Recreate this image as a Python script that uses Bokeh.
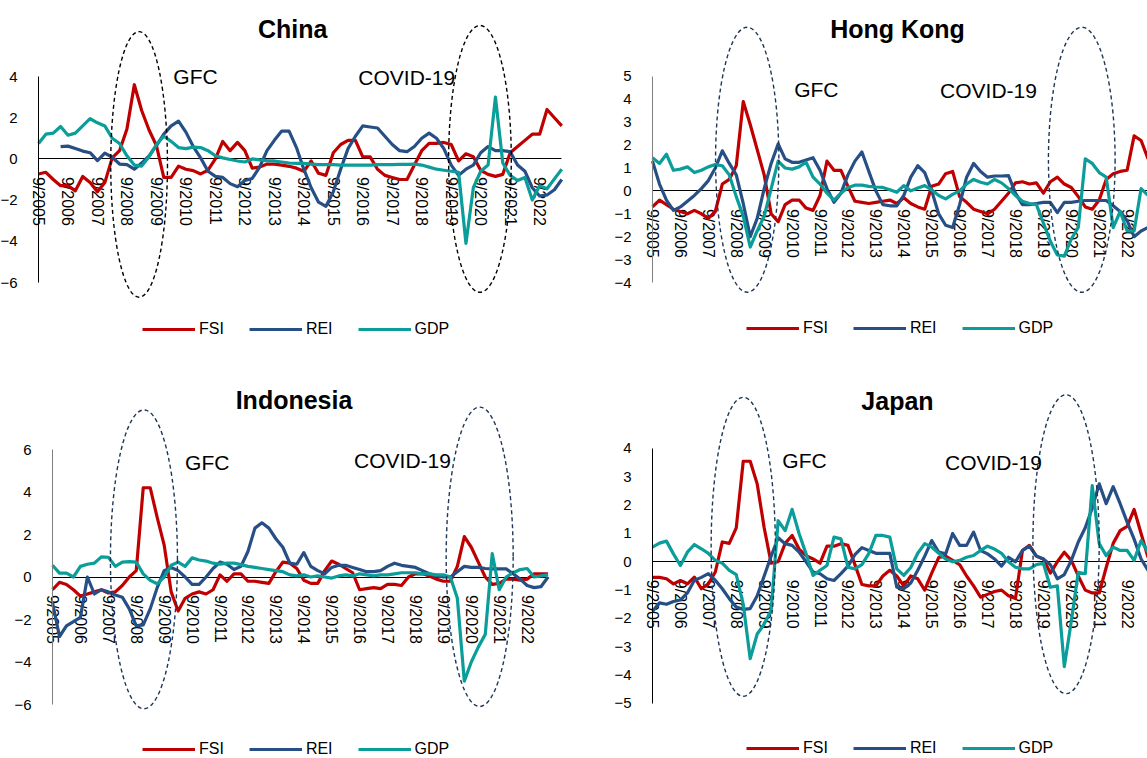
import math
from bokeh.plotting import figure
from bokeh.models import Range1d, LinearAxis, FixedTicker, Legend, LegendItem, Label
from bokeh.layouts import column, row
from bokeh.embed import file_html
from bokeh.resources import INLINE

NAN = float("nan")
FONT = "Liberation Sans"

# ---------------- categories (quarters 9/2005 ... 6/2023) ----------------
months = [9, 12, 3, 6]
quarters = [f"{months[i % 4]}/{2005 + (i + 2) // 4}" for i in range(72)]
xs = list(range(len(quarters)))
tick_idx = [i for i in xs if i % 4 == 0]
tick_labels = {i: quarters[i] for i in tick_idx}

# ---------------- data ----------------
china_fsi = [-0.73, -0.65, -1.0, -1.3, -1.3, -1.55, -0.85, -1.15, -1.6, -1.15,
             0.05, 0.4, 1.45, 3.6, 2.35, 1.4, 0.65, -0.9, -0.9, -0.35,
             -0.5, -0.57, -0.73, -0.55, 0.0, 0.85, 0.4, 0.8, 0.4, -0.45,
             -0.4, -0.25, -0.25, -0.3, -0.36, -0.45, -0.6, -0.1, -0.7, -0.8,
             0.3, 0.7, 0.9, 0.9, 0.1, 0.1, -0.5, -0.8, -0.9, -1.0,
             -1.0, -0.3, 0.4, 0.75, 0.75, 0.8, 0.7, -0.1, 0.25, 0.1,
             -0.55, -0.75, -0.85, -0.75, 0.3, 0.6, 0.9, 1.2, 1.2, 2.4,
             2.0, 1.6]
china_rei = [NAN, NAN, NAN, 0.6, 0.62, 0.5, 0.38, 0.3, -0.08, 0.28,
             0.08, -0.25, -0.28, -0.5, -0.2, 0.15, 0.65, 1.2, 1.6, 1.83,
             1.3, 0.6, 0.05, -0.6, -0.85, -0.9, -1.2, -1.35, -1.05, -0.95,
             -0.4, 0.4, 0.9, 1.35, 1.35, 0.55, -0.5, -1.4, -2.1, -2.3,
             -1.6, -0.5, 0.5, 1.1, 1.6, 1.55, 1.5, 1.1, 0.7, 0.4,
             0.35, 0.6, 1.0, 1.25, 1.0, 0.5, -0.3, -0.8, -0.5, -0.3,
             0.3, 0.6, 0.4, 0.4, 0.35, -0.3, -0.6, -1.4, -1.8, -1.75,
             -1.5, -1.0]
china_gdp = [0.75, 1.2, 1.25, 1.57, 1.15, 1.25, 1.6, 1.95, 1.75, 1.6,
             1.0, 0.75, 0.15, -0.3, -0.35, 0.1, 0.7, 1.1, 0.85, 0.55,
             0.5, 0.57, 0.55, 0.4, 0.15, 0.05, -0.03, -0.1, -0.15, 0.0,
             -0.05, -0.08, -0.1, -0.15, -0.2, -0.22, -0.22, -0.25, -0.28, -0.28,
             -0.28, -0.3, -0.3, -0.3, -0.3, -0.3, -0.28, -0.28, -0.28, -0.27,
             -0.27, -0.25, -0.3, -0.4, -0.5, -0.55, -0.6, -0.65, -4.1, -1.4,
             -0.6, -0.3, 3.0, -0.2, -0.8, -1.05, -0.9, -2.0, -1.3, -1.45,
             -0.97, -0.5]

hk_fsi = [-0.7, -0.4, -0.6, -0.8, -0.9, -1.0, -0.85, -1.0, -1.2, -0.9,
          0.3, 0.5, 1.1, 3.9, 2.9, 1.8, 0.7, -1.0, -1.35, -0.6,
          -0.4, -0.4, -0.75, -0.85, -0.2, 1.3, 0.9, 0.9, 0.2, -0.45,
          -0.5, -0.55, -0.5, -0.45, -0.4, -0.55, -0.3, -0.55, -0.7, -0.8,
          0.2, 0.3, 0.75, 0.85, -0.25, -0.5, -0.8, -0.9, -1.0, -0.8,
          -0.45, -0.1, 0.35, 0.4, 0.3, 0.35, -0.1, 0.4, 0.6, 0.3,
          0.15, -0.25, -0.7, -0.8, -0.4, 0.5, 0.75, 0.85, 0.9, 2.4,
          2.2, 1.4]
hk_rei = [1.3, 0.3, -0.4, -0.85, -0.7, -0.45, -0.2, 0.1, 0.45, 1.0,
          1.75, 1.2, 0.7, -0.55, -2.0, -1.2, 0.1, 1.2, 2.05, 1.4,
          1.25, 1.25, 1.35, 1.45, 0.9, 0.1, -0.5, -0.1, 0.7, 1.3,
          1.7, 0.85, 0.0, -0.6, -0.65, -0.65, -0.2, 0.6, 1.1, 0.8,
          0.0, -1.0, -1.5, -1.6, -0.6, 0.6, 1.2, 0.85, 0.6, 0.65,
          0.65, 0.67, -0.1, -0.6, -0.6, -0.55, -0.5, -0.5, -0.95, -0.5,
          -0.5, -0.45, -0.42, -0.42, -0.42, -0.42, -0.65, -0.9, -1.3, -2.0,
          -1.75, -1.6]
hk_gdp = [1.45, 1.2, 1.6, 0.9, 0.95, 1.05, 0.8, 0.9, 1.05, 1.15,
          1.1, 0.7, -0.25, -1.1, -2.45, -1.75, -1.1, 0.1, 1.3, 1.0,
          0.95, 1.05, 1.25, 0.6, 0.3, -0.1, -0.4, -0.1, 0.15, 0.25,
          0.25, 0.2, 0.17, 0.15, 0.05, -0.06, 0.23, 0.0, 0.13, 0.23,
          0.05, -0.2, -0.35, -0.15, 0.0, 0.3, 0.5, 0.38, 0.3, 0.5,
          0.35, 0.1, -0.2, -0.45, -0.55, -0.6, -1.4, -2.2, -2.8, -2.85,
          -2.1, -1.6, 1.4, 1.2, 0.8, 0.6, -1.6, -0.9, -1.75, -1.75,
          0.1, -0.2]

indo_fsi = [-0.6, -0.25, -0.35, -0.6, -0.9, -0.8, -0.7, -0.6, -0.75, -0.7,
            -0.4, 0.0, 0.3, 4.2, 4.2, 2.8, 1.5, -0.7, -1.6, -1.0,
            -0.8, -0.7, -0.8, -0.6, 0.1, -0.2, 0.15, 0.15, -0.2, -0.2,
            -0.25, -0.3, 0.25, 0.7, 0.65, 0.4, -0.15, -0.3, -0.3, 0.3,
            0.75, 0.6, 0.4, 0.2, -0.6, -0.55, -0.5, -0.55, -0.35, -0.35,
            -0.4, 0.0, 0.15, 0.15, 0.05, -0.1, -0.2, -0.2, 0.5, 1.9,
            1.4, 0.7, 0.0, -0.35, -0.3, -0.1, -0.1, -0.15, -0.1, 0.15,
            0.15, 0.15]
indo_rei = [-1.2, -2.8, -2.3, -2.1, -1.9, 0.0, -0.8, -0.6, -0.7, -0.85,
            -0.95, -1.5, -2.3, -2.25, -1.5, -0.5, 0.3, 0.45, 0.3, 0.0,
            -0.35, -0.35, 0.0, 0.4, 0.7, 0.6, 0.35, 0.5, 1.2, 2.3,
            2.55, 2.3, 1.8, 1.4, 0.65, 0.6, 1.15, 0.5, 0.3, 0.15,
            0.45, 0.55, 0.55, 0.45, 0.35, 0.25, 0.25, 0.3, 0.5, 0.65,
            0.55, 0.5, 0.45, 0.3, 0.15, 0.05, 0.0, 0.0, 0.25, 0.5,
            0.45, 0.45, 0.4, 0.38, 0.38, 0.38, 0.15, -0.1, -0.4, -0.5,
            -0.45, 0.0]
indo_gdp = [0.55, 0.18, 0.18, 0.0, 0.5, 0.6, 0.65, 0.95, 0.93, 0.5,
            0.7, 0.72, 0.7, 0.15, -0.16, -0.32, 0.0, 0.55, 0.7, 0.5,
            0.9, 0.8, 0.75, 0.65, 0.6, 0.65, 0.65, 0.58, 0.5, 0.45,
            0.4, 0.35, 0.3, 0.25, 0.1, 0.05, 0.1, 0.0, 0.05, 0.0,
            -0.05, 0.05, 0.1, 0.05, 0.15, 0.1, 0.05, 0.1, 0.1, 0.15,
            0.2, 0.2, 0.2, 0.15, 0.15, 0.1, 0.1, 0.0, -1.0, -4.9,
            -4.0, -3.3, -2.7, 1.1, -0.6, 0.0, 0.2, 0.35, 0.4, 0.0,
            0.05, 0.1]

jp_fsi = [-0.55, -0.55, -0.6, -0.78, -0.66, -0.78, -0.54, -0.95, -0.78, -0.36,
          0.7, 0.65, 1.2, 3.55, 3.55, 2.75, 1.2, -0.05, 0.0, 0.65,
          0.93, 0.45, 0.22, 0.1, -0.05, 0.55, 0.55, 0.64, 0.58, -0.1,
          -0.8, -0.85, -0.85, -0.5, -0.3, -0.5, -0.85, -0.5, -0.6, -1.0,
          -0.4, 0.15, 0.2, 0.05, -0.1, -0.5, -0.85, -1.25, -1.15, -1.05,
          -1.0, -1.2, -1.3, 0.4, 0.58, 0.2, 0.1, -0.4, 0.0, 0.34,
          0.05, -0.5, -1.0, -1.1, -1.1, -0.2, 0.65, 1.1, 1.25, 1.85,
          1.0, 0.15]
jp_rei = [-1.75, -1.45, -1.5, -1.4, -1.35, -1.1, -0.65, -0.55, -0.42, -0.65,
          -0.95, -1.3, -1.6, -1.68, -1.65, -1.2, -0.5, 0.2, 0.85, 0.64,
          0.58, 0.34, 0.0, -0.36, -0.42, -0.6, -0.66, -0.42, -0.15, 0.25,
          0.5, 0.4, 0.3, 0.3, 0.3, -0.9, -0.95, -0.75, -0.3, 0.2,
          0.75, 0.34, 0.28, 1.0, 0.58, 0.58, 1.05, 0.4, 0.28, 0.1,
          -0.15, 0.16, 0.0, 0.4, 0.55, 0.2, 0.1, -0.1, -0.6, -0.45,
          0.05, 0.7, 1.2, 1.9, 2.75, 2.05, 2.65, 2.05, 1.4, 0.8,
          0.1, -0.3]
jp_gdp = [0.52, 0.66, 0.73, 0.28, -0.13, 0.34, 0.61, 0.46, 0.3, 0.05,
          -0.05, -0.3, -0.45, -1.5, -3.42, -2.55, -2.2, -1.7, 1.45, 1.1,
          1.85, 1.0, 0.28, -0.48, -0.3, -0.13, 0.87, 0.81, -0.19, -0.25,
          -0.1, 0.3, 0.93, 0.93, 0.87, -0.25, -0.48, -0.2, 0.3, 0.64,
          0.52, 0.3, 0.1, 0.0, 0.05, 0.16, 0.22, 0.4, 0.55, 0.45,
          0.3, 0.0, -0.19, -0.25, -0.25, -0.1, -0.05, -0.9, -0.85, -3.7,
          -2.1, -0.37, -0.42, 2.69, 0.64, 0.22, 0.52, 0.4, 0.4, 0.05,
          0.75, 0.34]

series_names = ["FSI", "REI", "GDP"]
series_colors = ["#C00000", "#264F86", "#0A9D99"]

# ---------------- panel builder ----------------
def make_panel(title, data, *, width, height, page_left, page_top, axis_px,
               px_per_q, zero_px, px_per_unit, yticks, axis_color,
               ellipses, ell_color, notes, title_xy, legend_left_px, legend_center_px):
    # frame covers the whole figure; both axes sit at fixed data locations
    x_start = -(axis_px - page_left) / px_per_q
    x_end = (page_left + width - axis_px) / px_per_q
    y_top = (zero_px - page_top) / px_per_unit
    y_bot = (zero_px - (page_top + height)) / px_per_unit

    p = figure(width=width, height=height, output_backend="svg", toolbar_location=None,
               x_range=Range1d(x_start, x_end), y_range=Range1d(y_bot, y_top),
               x_axis_location=None, y_axis_location=None,
               min_border_left=0, min_border_right=0,
               min_border_top=0, min_border_bottom=0)
    p.outline_line_color = None
    p.grid.visible = False
    p.background_fill_color = "white"
    p.border_fill_color = "white"

    ya = LinearAxis(fixed_location=0, ticker=FixedTicker(ticks=yticks),
                    bounds=(min(yticks), max(yticks)))
    ya.axis_line_color = axis_color
    ya.axis_line_width = 1
    ya.major_tick_line_color = None
    ya.minor_tick_line_color = None
    ya.major_label_text_font = FONT
    ya.major_label_text_font_size = "15px"
    ya.major_label_text_color = "#000000"
    ya.major_label_standoff = 15
    p.add_layout(ya, "left")

    xa = LinearAxis(fixed_location=0, ticker=FixedTicker(ticks=tick_idx),
                    major_label_overrides=tick_labels, major_label_orientation="vertical",
                    bounds=(0, len(xs) - 1), level="underlay")
    xa.axis_line_color = "#000000"
    xa.axis_line_width = 1
    xa.major_tick_line_color = None
    xa.minor_tick_line_color = None
    xa.major_label_text_font = FONT
    xa.major_label_text_font_size = "16px"
    xa.major_label_text_color = "#000000"
    xa.major_label_standoff = 12
    p.add_layout(xa, "below")

    renderers = []
    for vals, col in zip(data, series_colors):
        r = p.line(xs, vals, line_color=col, line_width=3.2, line_join="round")
        renderers.append(r)

    for (cx, cy, w, h) in ellipses:
        p.ellipse(x=[cx], y=[cy], width=[w], height=[h], fill_color=None,
                  line_color=ell_color, line_width=1.4, line_dash="4 3")

    for (tx, ty, txt) in notes:
        p.add_layout(Label(x=tx, y=ty, text=txt, text_font=FONT, text_font_size="21px",
                           text_color="#000000", text_align="left", text_baseline="middle"))

    p.add_layout(Label(x=title_xy[0], y=title_xy[1], text=title, text_font=FONT,
                       text_font_size="25px", text_font_style="bold", text_color="#000000",
                       text_align="center", text_baseline="middle"))

    leg_h = 20
    vx = legend_left_px - page_left
    vy = (page_top + height) - (legend_center_px + leg_h / 2)
    legend = Legend(items=[LegendItem(label=n, renderers=[r]) for n, r in zip(series_names, renderers)],
                    orientation="horizontal", location=(vx, vy),
                    glyph_width=53, glyph_height=leg_h, label_height=leg_h, label_standoff=4,
                    spacing=25, padding=0, margin=0,
                    border_line_alpha=0, background_fill_alpha=0,
                    label_text_font=FONT, label_text_font_size="16px", label_text_color="#000000")
    p.add_layout(legend, "center")
    return p


china = make_panel("China", [china_fsi, china_rei, china_gdp],
                   width=580, height=378, page_left=0, page_top=0, axis_px=38,
                   px_per_q=7.37, zero_px=158.4, px_per_unit=20.6,
                   yticks=[-6, -4, -2, 0, 2, 4], axis_color="#000000",
                   ellipses=[(13.65, -0.27, 7.7, 12.9), (59.9, 0.0, 8.5, 12.95)],
                   ell_color="#000000",
                   notes=[(18.3, 4.0, "GFC"), (43.4, 3.95, "COVID-19")],
                   title_xy=(34.5, 6.33), legend_left_px=142, legend_center_px=329)

hk = make_panel("Hong Kong", [hk_fsi, hk_rei, hk_gdp],
                width=567, height=378, page_left=580, page_top=0, axis_px=652,
                px_per_q=6.98, zero_px=190.4, px_per_unit=22.9,
                yticks=[-4, -3, -2, -1, 0, 1, 2, 3, 4, 5], axis_color="#808080",
                ellipses=[(13.57, 1.36, 9.07, 11.57), (61.5, 1.36, 9.55, 11.57)],
                ell_color="#1F3655",
                notes=[(20.3, 4.41, "GFC"), (41.2, 4.38, "COVID-19")],
                title_xy=(35.1, 7.09), legend_left_px=746, legend_center_px=328)

indo = make_panel("Indonesia", [indo_fsi, indo_rei, indo_gdp],
                  width=580, height=380, page_left=0, page_top=378, axis_px=52,
                  px_per_q=6.98, zero_px=576.5, px_per_unit=21.25,
                  yticks=[-6, -4, -2, 0, 2, 4, 6], axis_color="#808080",
                  ellipses=[(13.1, 0.83, 9.6, 14.07), (61.2, 0.95, 9.6, 14.1)],
                  ell_color="#1F3655",
                  notes=[(19.0, 5.4, "GFC"), (43.2, 5.48, "COVID-19")],
                  title_xy=(34.6, 8.31), legend_left_px=142, legend_center_px=749)

japan = make_panel("Japan", [jp_fsi, jp_rei, jp_gdp],
                   width=567, height=380, page_left=580, page_top=378, axis_px=652,
                   px_per_q=6.98, zero_px=561.3, px_per_unit=28.33,
                   yticks=[-5, -4, -3, -2, -1, 0, 1, 2, 3, 4], axis_color="#000000",
                   ellipses=[(13.0, 0.53, 9.2, 10.56), (59.25, 0.62, 9.5, 10.56)],
                   ell_color="#1F3655",
                   notes=[(18.6, 3.58, "GFC"), (41.9, 3.52, "COVID-19")],
                   title_xy=(35.1, 5.69), legend_left_px=746, legend_center_px=748)

layout = column(row(china, hk, spacing=0), row(indo, japan, spacing=0), spacing=0)

open("out.html", "w").write(file_html(layout, INLINE))
